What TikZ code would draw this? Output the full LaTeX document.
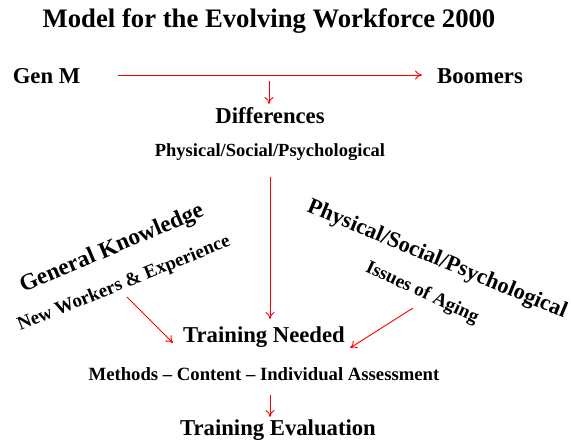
\documentclass[tikz,border=0pt]{standalone}
\usepackage{fontspec}
\setmainfont{Liberation Serif}
\usetikzlibrary{arrows.meta}
\begin{document}
\begin{tikzpicture}[x=1pt,y=-1pt,
  lbl/.style={font=\bfseries, inner sep=0pt, anchor=center},
  big/.style={lbl, font=\fontsize{22.7}{26}\bfseries},
  conn/.style={draw=red, line width=0.9pt, -{To[length=7pt,width=9pt]}}]
\useasboundingbox (0,0) rectangle (571,443);
\node[lbl, font=\fontsize{26.7}{30}\bfseries] (title) at (269,21) {Model for the Evolving Workforce 2000};
\node[big] (genm) at (46.5,76) {Gen M};
\node[big] (boom) at (480,76) {Boomers};
\node[big] (diff) at (270,116) {Differences};
\node[lbl, font=\fontsize{18.5}{22}\bfseries] (pss) at (270,152) {Physical/Social/Psychological};
\node[lbl, font=\fontsize{23.3}{27}\bfseries, rotate=23] (gk) at (112,249) {General Knowledge};
\node[lbl, font=\fontsize{19}{22}\bfseries, rotate=22] (nwe) at (124,284) {New Workers \& Experience};
\node[lbl, font=\fontsize{22.4}{26}\bfseries, rotate=-22.5] (pss2) at (437,260) {Physical/Social/Psychological};
\node[lbl, font=\fontsize{19}{22}\bfseries, rotate=-25] (aging) at (422,293) {Issues of Aging};
\node[big] (tn) at (264,337) {Training Needed};
\node[lbl, font=\fontsize{18.7}{22}\bfseries] (meth) at (264,374) {Methods -- Content -- Individual Assessment};
\node[big] (te) at (278,430) {Training Evaluation};
\coordinate (h1) at (118,75);
\coordinate (h2) at (422,75);
\coordinate (d1) at (269,81);
\coordinate (d2) at (269,104);
\coordinate (v1) at (270,177);
\coordinate (v2) at (270,319);
\coordinate (l1) at (127,297);
\coordinate (l2) at (173,343);
\coordinate (r1) at (413,308);
\coordinate (r2) at (350,348);
\coordinate (e1) at (270,395);
\coordinate (e2) at (270,417);
\draw[conn] (h1) -- (h2);
\draw[conn] (d1) -- (d2);
\draw[conn] (v1) -- (v2);
\draw[conn] (l1) -- (l2);
\draw[conn] (r1) -- (r2);
\draw[conn] (e1) -- (e2);
\end{tikzpicture}
\end{document}
